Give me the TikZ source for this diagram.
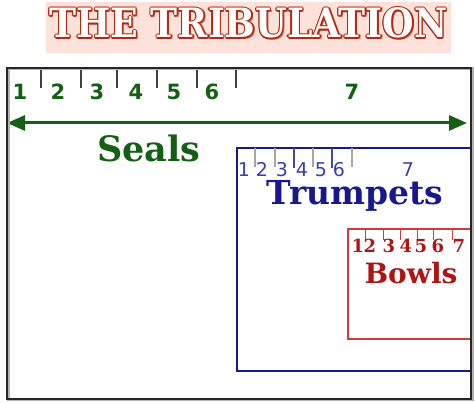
\documentclass[tikz,border=0pt]{standalone}
\usepackage{fontspec}
\usepackage{graphicx}
\setmainfont{DejaVu Serif}
\newfontfamily\digsans{DejaVu Sans}
\usetikzlibrary{arrows.meta}
\definecolor{titlebg}{RGB}{253,226,218}
\definecolor{titlered}{RGB}{178,40,20}
\definecolor{sealgreen}{RGB}{20,95,20}
\definecolor{navy}{RGB}{24,24,140}
\definecolor{trumpblue}{RGB}{60,60,175}
\definecolor{bowlred}{RGB}{175,20,20}
\definecolor{bowlline}{RGB}{205,60,60}
\tikzset{
  sealtick/.style={draw=gray!50!black, line width=1.2pt},
  trumptick/.style={draw=gray!70, line width=1.4pt},
  trumptickb/.style={draw=navy!80, line width=1.2pt},
  bowltick/.style={draw=bowlline, line width=0.9pt},
  sealnum/.style={anchor=base, inner sep=0pt, text=sealgreen, font=\digsans\bfseries\fontsize{21}{21}\selectfont},
  trumpnum/.style={anchor=base, inner sep=0pt, text=trumpblue, font=\digsans\fontsize{19}{19}\selectfont},
  bowlnum/.style={anchor=base, inner sep=0pt, text=bowlred, font=\bfseries\fontsize{18}{18}\selectfont},
  biglabel/.style={anchor=base, inner sep=0pt, font=\bfseries},
  titletext/.style={anchor=base, inner sep=0pt},
}
\newcommand{\titletxt}{\resizebox{398pt}{30pt}{\bfseries THE TRIBULATION}}
\begin{document}
\begin{tikzpicture}[x=1pt,y=-1pt]
\useasboundingbox (0,0) rectangle (475,403);
% title
\fill[titlebg] (46,2) rectangle (451,53);
\node[titletext, text=titlered!70] at (250,39.5) {\titletxt};
\foreach \a in {0,45,...,315}{
  \node[titletext, text=titlered] at ([shift={(\a:1.3)}]248.5,38) {\titletxt};
}
\node (title) [titletext, text=white] at (248.5,38) {\titletxt};

% bowls box
\draw[bowlline, line width=1.3pt] (473,229) -- (348,229) -- (348,339) -- (473,339);
\coordinate (bowlbox) at (348,229);
\foreach \x in {365,383,400,417,433,452} \draw[bowltick] (\x,229) -- (\x,240);
\foreach \x/\n in {358/1,370/2,389/3,406/4,421/5,438/6,459/7}
  \node (b\n) [bowlnum] at (\x,253) {\n};
\node (bowls) [biglabel, text=bowlred, font=\bfseries\fontsize{28}{28}\selectfont] at (411,284) {Bowls};

% trumpets box
\draw[navy, line width=2pt] (473,148) -- (237,148) -- (237,371) -- (473,371);
\coordinate (trumpbox) at (237,148);
\foreach \x in {255,275,313,352} \draw[trumptick] (\x,148) -- (\x,167);
\foreach \x in {294,332} \draw[trumptickb] (\x,148) -- (\x,168);
\foreach \x/\n in {244/1,262/2,282/3,302/4,321/5,339/6,408/7}
  \node (t\n) [trumpnum] at (\x,177) {\n};
\node (trumpets) [biglabel, text=navy, font=\bfseries\fontsize{33}{33}\selectfont] at (355,205) {Trumpets};

% seals
\foreach \x in {41,81,117,157,197,236} \draw[sealtick] (\x,68) -- (\x,88);
\foreach \x/\n in {20/1,58/2,97/3,136/4,174/5,212/6,352/7}
  \node (s\n) [sealnum] at (\x,100) {\n};
\coordinate (arrowL) at (7,123);
\coordinate (arrowR) at (467,123);
\draw[sealgreen, line width=3pt, {Triangle[length=18pt,width=15pt]}-{Triangle[length=18pt,width=15pt]}] (arrowL) -- (arrowR);
\node (seals) [biglabel, text=sealgreen, font=\bfseries\fontsize{35}{35}\selectfont] at (149,162) {Seals};

% outer box
\draw[gray!60, line width=3pt] (8,69) rectangle (472,400);
\draw[black!85, line width=2.6pt] (7,68) rectangle (471,399);
\end{tikzpicture}
\end{document}
